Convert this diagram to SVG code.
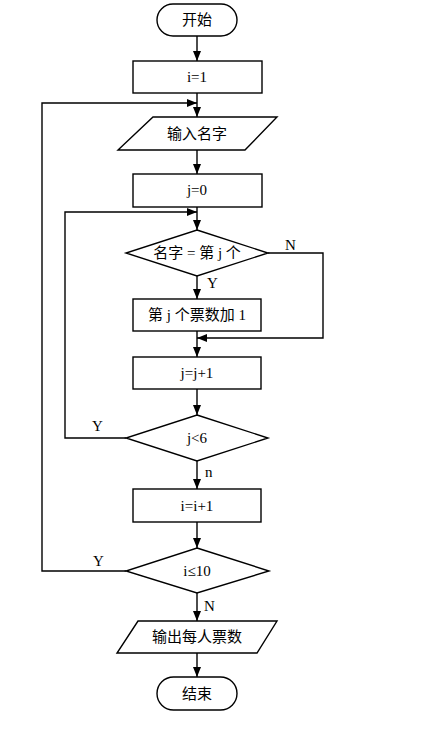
<svg xmlns="http://www.w3.org/2000/svg" width="434" height="733" viewBox="0 0 434 733">
<style>
.s{fill:#fff;stroke:#000;stroke-width:1.4}
.c{fill:none;stroke:#000;stroke-width:1.4}
.t{font-family:"Liberation Serif","Noto Sans CJK SC",serif;font-size:15px;fill:#000;text-anchor:middle;dominant-baseline:central}
.l{font-family:"Liberation Serif",serif;font-size:15px;fill:#000}
</style>
<defs>
<marker id="a" markerUnits="userSpaceOnUse" markerWidth="10" markerHeight="8" refX="10" refY="4" orient="auto">
<path d="M0,0 L10,4 L0,8 z" fill="#000"/>
</marker>
</defs>
<rect width="434" height="733" fill="#fff"/>
<g id="start"><rect class="s" x="157" y="4" width="80" height="32" rx="16"/><text class="t" x="197" y="20">开始</text></g>
<g id="i1"><rect class="s" x="133" y="61" width="129" height="32"/><text class="t" x="197" y="77">i=1</text></g>
<g id="input"><polygon class="s" points="153,117 277,117 245,150 118,150"/><text class="t" x="197" y="134">输入名字</text></g>
<g id="j0"><rect class="s" x="133" y="174" width="129" height="33"/><text class="t" x="197" y="190">j=0</text></g>
<g id="cond1"><polygon class="s" points="197,230 268,253 197,276 126,253"/><text class="t" x="197" y="253">名字 = 第 j 个</text></g>
<g id="inc"><rect class="s" x="133" y="299" width="128" height="32"/><text class="t" x="197" y="315">第 j 个票数加 1</text></g>
<g id="jinc"><rect class="s" x="133" y="357" width="128" height="32"/><text class="t" x="197" y="373">j=j+1</text></g>
<g id="cond2"><polygon class="s" points="197,415 268,438 197,461 126,438"/><text class="t" x="197" y="438">j&lt;6</text></g>
<g id="iinc"><rect class="s" x="133" y="489" width="128" height="33"/><text class="t" x="197" y="506">i=i+1</text></g>
<g id="cond3"><polygon class="s" points="197,548 269,571 197,593 126,571"/><text class="t" x="197" y="571">i≤10</text></g>
<g id="output"><polygon class="s" points="138,621 277,621 257,653 117,653"/><text class="t" x="197" y="637">输出每人票数</text></g>
<g id="end"><rect class="s" x="157" y="677" width="80" height="33" rx="16.5"/><text class="t" x="197" y="694">结束</text></g>
<g id="connectors">
<line class="c" x1="197" y1="36" x2="197" y2="61" marker-end="url(#a)"/>
<line class="c" x1="197" y1="93" x2="197" y2="117" marker-end="url(#a)"/>
<line class="c" x1="197" y1="150" x2="197" y2="174" marker-end="url(#a)"/>
<line class="c" x1="197" y1="207" x2="197" y2="230" marker-end="url(#a)"/>
<line class="c" x1="197" y1="276" x2="197" y2="299" marker-end="url(#a)"/>
<line class="c" x1="197" y1="331" x2="197" y2="357" marker-end="url(#a)"/>
<line class="c" x1="197" y1="389" x2="197" y2="415" marker-end="url(#a)"/>
<line class="c" x1="197" y1="461" x2="197" y2="489" marker-end="url(#a)"/>
<line class="c" x1="197" y1="522" x2="197" y2="548" marker-end="url(#a)"/>
<line class="c" x1="197" y1="593" x2="197" y2="621" marker-end="url(#a)"/>
<line class="c" x1="197" y1="653" x2="197" y2="677" marker-end="url(#a)"/>
<polyline class="c" points="268,253 323,253 323,338 197,338" marker-end="url(#a)"/>
<polyline class="c" points="126,438 65,438 65,212 197,212" marker-end="url(#a)"/>
<polyline class="c" points="126,571 42,571 42,103 197,103" marker-end="url(#a)"/>
<text class="l" x="285" y="250">N</text>
<text class="l" x="207" y="288">Y</text>
<text class="l" x="92" y="431">Y</text>
<text class="l" x="205" y="477">n</text>
<text class="l" x="93" y="566">Y</text>
<text class="l" x="204" y="611">N</text>
</g>
</svg>
